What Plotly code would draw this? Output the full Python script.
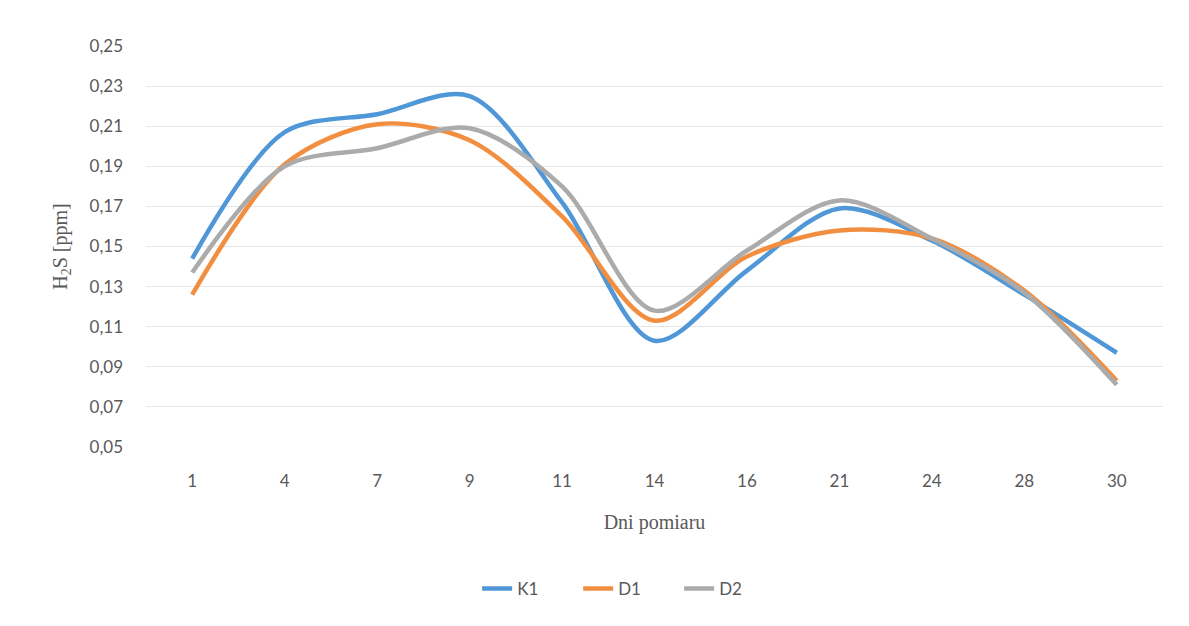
import plotly.graph_objects as go

days = ["1", "4", "7", "9", "11", "14", "16", "21", "24", "28", "30"]
k1 = [0.144, 0.207, 0.216, 0.225, 0.172, 0.103, 0.138, 0.169, 0.153, 0.126, 0.097]
d1 = [0.126, 0.191, 0.211, 0.203, 0.165, 0.113, 0.145, 0.158, 0.154, 0.128, 0.083]
d2 = [0.137, 0.190, 0.199, 0.209, 0.180, 0.118, 0.148, 0.173, 0.154, 0.127, 0.081]
yticks = [0.05, 0.07, 0.09, 0.11, 0.13, 0.15, 0.17, 0.19, 0.21, 0.23, 0.25]

series = [("K1", k1, "#4F97D6"), ("D1", d1, "#F28E3F"), ("D2", d2, "#ABABAB")]

fig = go.Figure()
for name, vals, col in series:
    fig.add_trace(go.Scatter(x=days, y=vals, name=name, mode="lines",
                             line=dict(color=col, width=4.5, shape="spline", smoothing=0.9)))

font_sans = "Lato, 'Open Sans', sans-serif"
font_serif = "'Liberation Serif', 'DejaVu Serif', serif"

fig.update_layout(
    width=1189, height=626,
    paper_bgcolor="white", plot_bgcolor="white",
    margin=dict(l=138, r=34, t=38, b=187, autoexpand=False),
    separators=", ",
    font=dict(family=font_sans, size=17, color="#595959"),
    xaxis=dict(type="category", range=[-0.5, len(days) - 0.5], automargin=False,
               showgrid=False, zeroline=False, showline=False,
               ticks="", ticklabelstandoff=22,
               title=dict(text="Dni pomiaru", font=dict(family=font_serif, size=20, color="#595959"),
                          standoff=24)),
    yaxis=dict(range=[0.05, 0.25], tickvals=yticks, tickformat=".2f", automargin=False,
               showgrid=True, gridcolor="#E6E6E6", gridwidth=1, zeroline=False, showline=False,
               ticklabelstandoff=22,
               title=dict(text="H<sub>2</sub>S [ppm]", font=dict(family=font_serif, size=20, color="#595959"),
                          standoff=16)),
    legend=dict(orientation="h", xref="container", yref="container",
                x=0.522, xanchor="center", y=0.072, yanchor="middle",
                font=dict(family=font_sans, size=17, color="#595959"),
                entrywidth=56, entrywidthmode="pixels"),
    showlegend=True,
)

fig.write_html("out.html")
